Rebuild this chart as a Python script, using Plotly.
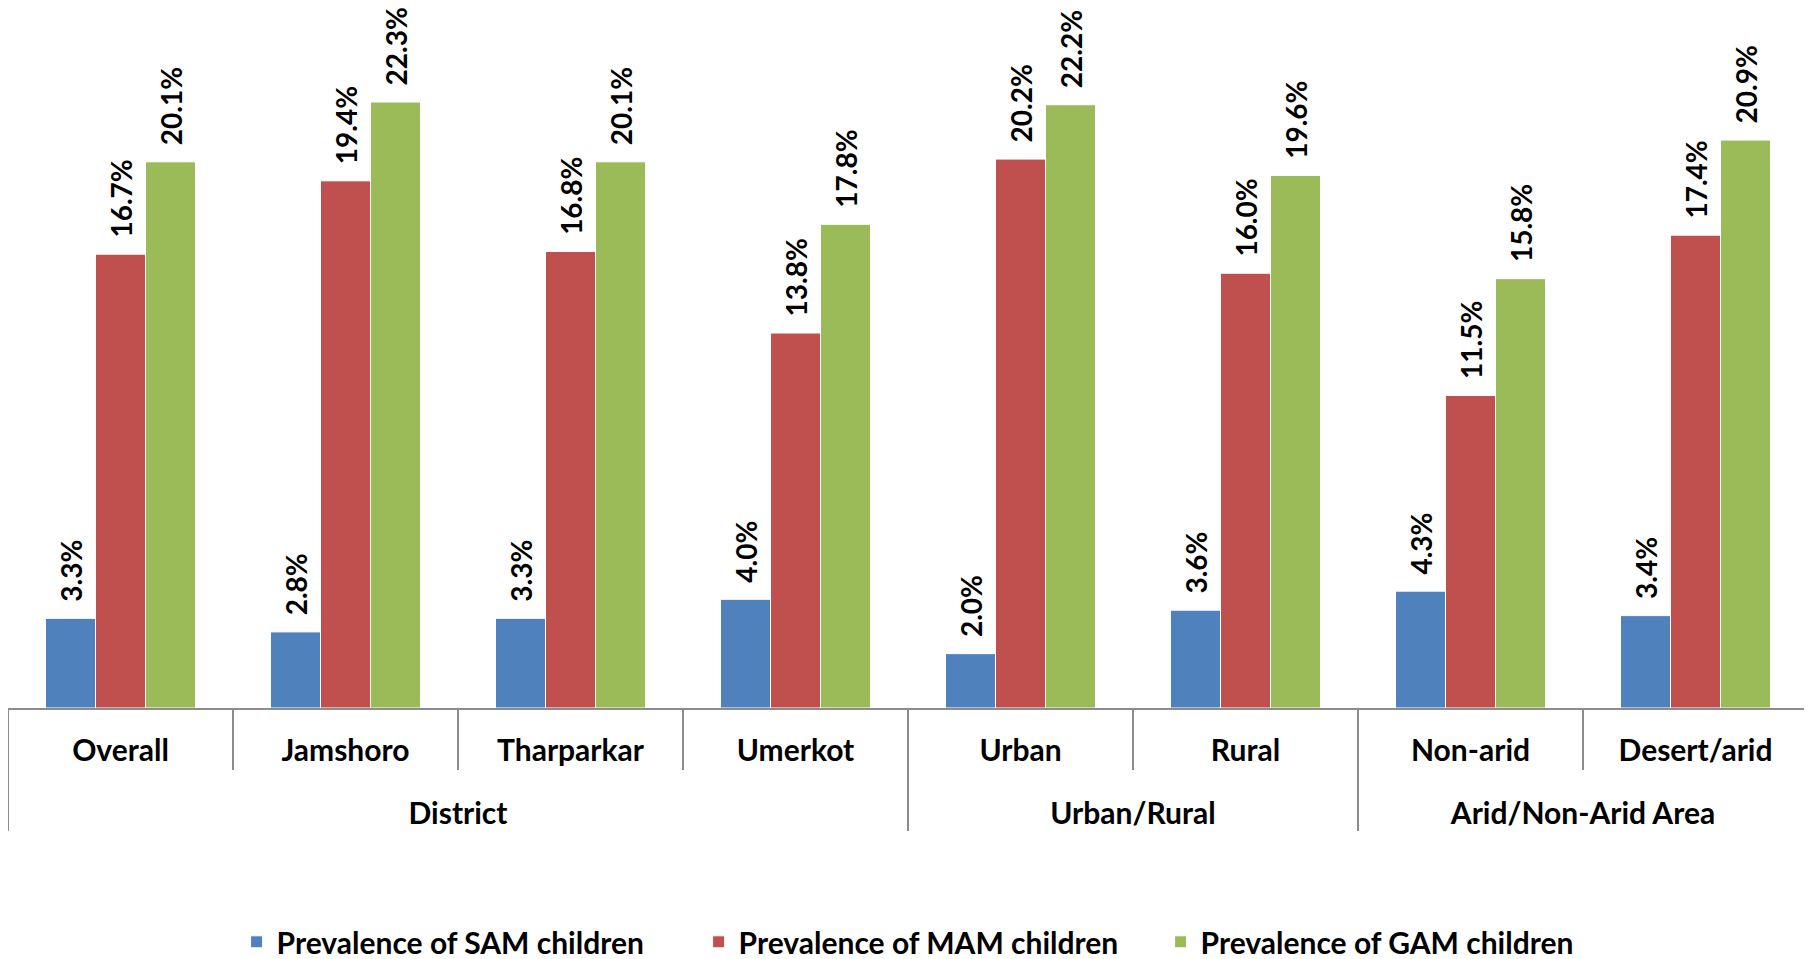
import plotly.graph_objects as go

groups = ["District", "District", "District", "District",
          "Urban/Rural", "Urban/Rural",
          "Arid/Non-Arid Area", "Arid/Non-Arid Area"]
categories = ["Overall", "Jamshoro", "Tharparkar", "Umerkot",
              "Urban", "Rural", "Non-arid", "Desert/arid"]

sam = [3.3, 2.8, 3.3, 4.0, 2.0, 3.6, 4.3, 3.4]
mam = [16.7, 19.4, 16.8, 13.8, 20.2, 16.0, 11.5, 17.4]
gam = [20.1, 22.3, 20.1, 17.8, 22.2, 19.6, 15.8, 20.9]

series = [
    ("Prevalence of SAM children", sam, "#4F81BD"),
    ("Prevalence of MAM children", mam, "#C0504D"),
    ("Prevalence of GAM children", gam, "#9BBB59"),
]

pad = "\u00a0\u00a0"  # small gap between bar top and its label
# a blank second line pushes the group row further down, like the original
cat_labels = [c + "<br><span style='font-size:34px'>\u00a0</span>" for c in categories]

fig = go.Figure()
for name, values, color in series:
    fig.add_trace(go.Bar(
        x=[groups, cat_labels],
        y=values,
        name=name,
        marker={'color': color, 'line': {'color': "white", 'width': 1}},
        text=[pad + f"{v:.1f}%" for v in values],
        textposition="outside",
        textangle=-90,
        constraintext="none",
        cliponaxis=False,
        textfont={'size': 28, 'color': "black"},
    ))

# page body has an 8px margin, so the figure is a bit smaller than the window
fig.update_layout(
    width=1804,
    height=951,
    template="plotly_white",
    paper_bgcolor="white",
    plot_bgcolor="white",
    barmode="group",
    bargap=1 / 3,
    bargroupgap=0,
    margin={'l': 0, 'r': 4, 't': 0, 'b': 251, 'autoexpand': False},
    font={'family': "Lato, Calibri, sans-serif", 'size': 25,
          'color': "black", 'weight': "bold"},
    showlegend=True,
    legend={
        'orientation': 'h',
        'xanchor': "left",
        'x': 0.127,
        'yanchor': "middle",
        'y': -0.334,
        'entrywidth': 417,
        'font': {'size': 30},
    },
    xaxis={
        'type': "multicategory",
        'automargin': False,
        'showline': True,
        'linecolor': "#8c8c8c",
        'linewidth': 2,
        'ticks': "outside",
        'ticklen': 60,
        'tickwidth': 2,
        'tickcolor': "#8c8c8c",
        'ticklabelstandoff': 15,
        'showdividers': True,
        'dividercolor': "#8c8c8c",
        'dividerwidth': 2,
        'showgrid': False,
        'tickfont': {'size': 30},
    },
    yaxis={
        'range': [0, 25.76],
        'visible': False,
        'showgrid': False,
    },
)

fig.write_html("out.html")
